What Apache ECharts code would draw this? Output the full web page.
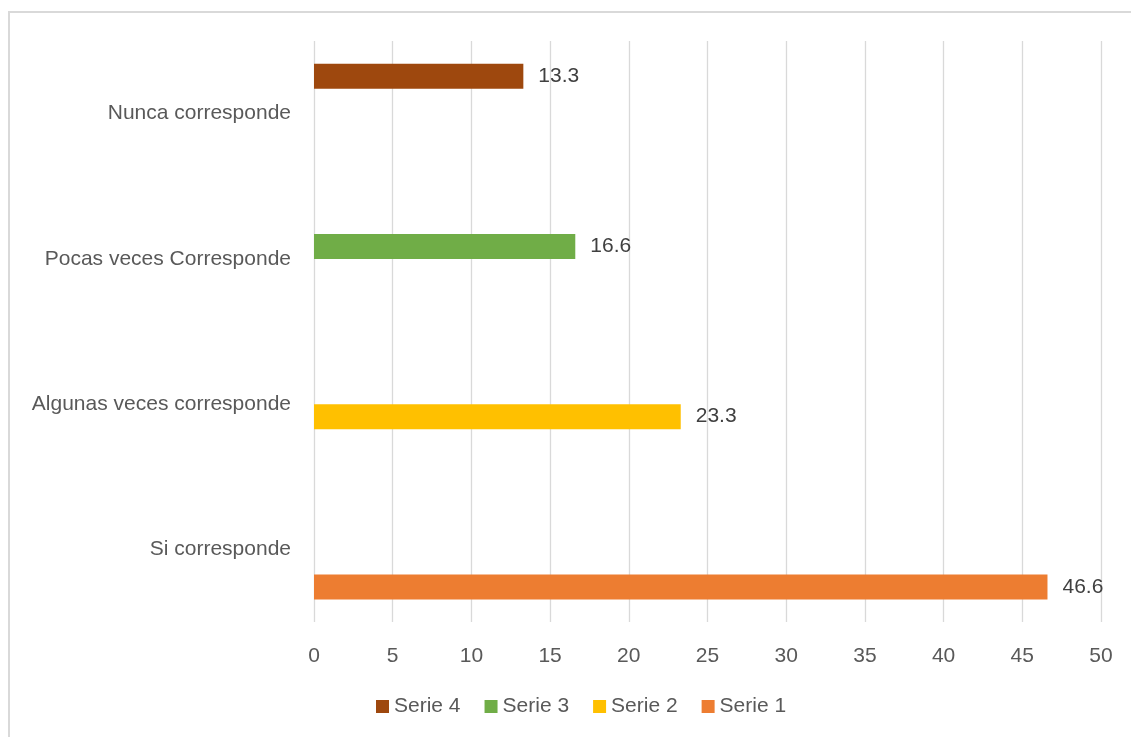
<!DOCTYPE html>
<html>
<head>
<meta charset="utf-8">
<script src="https://cdn.jsdelivr.net/npm/echarts@6/dist/echarts.min.js"></script>
<style>html,body{margin:0;padding:0;background:#fff}#c{width:1131px;height:737px}</style>
</head>
<body>
<div id="c"></div>
<script>
const categories = ['Si corresponde', 'Algunas veces corresponde', 'Pocas veces Corresponde', 'Nunca corresponde'];
const serie1 = [46.6, null, null, null];
const serie2 = [null, 23.3, null, null];
const serie3 = [null, null, 16.6, null];
const serie4 = [null, null, null, 13.3];
const seriesNames = ['Serie 4', 'Serie 3', 'Serie 2', 'Serie 1'];
const seriesData = [serie4, serie3, serie2, serie1];
const colors = ['#9E480E', '#70AD47', '#FFC000', '#ED7D31'];

const FONT = 'Liberation Sans';
const FS = 21;
const chart = echarts.init(document.getElementById('c'));
chart.setOption({
  animation: false,
  textStyle: { fontFamily: FONT },
  graphic: [{
    type: 'rect', shape: { x: 9, y: 12, width: 1140, height: 740 },
    style: { fill: 'none', stroke: '#d9d9d9', lineWidth: 2 }, silent: true, z: -1
  }],
  grid: { left: 314, right: 30, top: 41, bottom: 115, containLabel: false },
  legend: {
    bottom: 15, left: 371, itemWidth: 13, itemHeight: 13, itemGap: 24,
    icon: 'rect',
    textStyle: { fontSize: FS, color: '#595959', fontFamily: FONT },
    data: seriesNames
  },
  xAxis: {
    type: 'value', min: 0, max: 50, interval: 5,
    axisLine: { show: false }, axisTick: { show: false },
    splitLine: { lineStyle: { color: '#d9d9d9', width: 1.3 } },
    axisLabel: { fontSize: FS, color: '#595959', margin: 24 }
  },
  yAxis: {
    type: 'category', data: categories,
    axisLine: { show: false }, axisTick: { show: false },
    axisLabel: { fontSize: FS, color: '#595959', margin: 23 }
  },
  series: seriesNames.map((n, i) => ({
    name: n, type: 'bar', data: seriesData[i],
    barWidth: 25, barGap: '0%',
    itemStyle: { color: colors[i] },
    label: { show: true, position: 'right', distance: 15, fontSize: FS, color: '#404040', fontFamily: FONT }
  }))
});
</script>
</body>
</html>
